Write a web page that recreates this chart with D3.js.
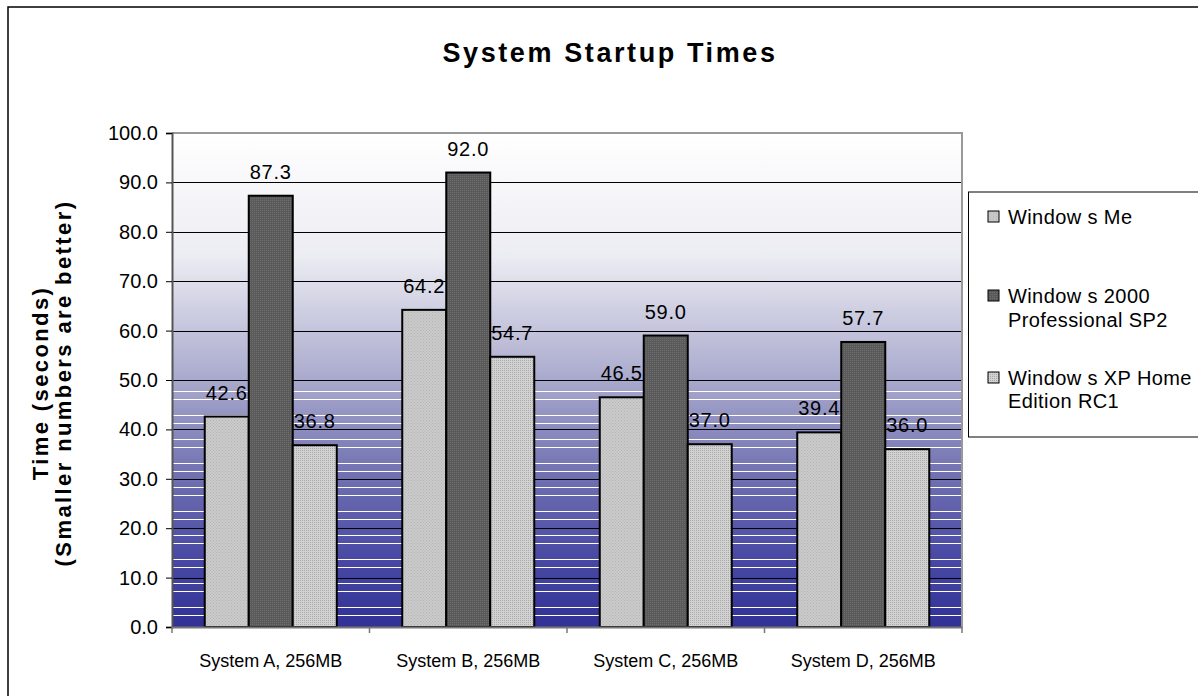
<!DOCTYPE html>
<html><head><meta charset="utf-8">
<script src="https://cdn.jsdelivr.net/npm/d3@7"></script>
<style>body{margin:0;background:#fff;} svg{display:block;font-family:"Liberation Sans",Arial,sans-serif;}</style>
</head><body>
<script>
const categories = ["System A, 256MB","System B, 256MB","System C, 256MB","System D, 256MB"];
const seriesNames = [["Window s Me"],["Window s 2000","Professional SP2"],["Window s XP Home","Edition RC1"]];
const winMe = [42.6, 64.2, 46.5, 39.4];
const win2000 = [87.3, 92.0, 59.0, 57.7];
const winXP = [36.8, 54.7, 37.0, 36.0];
const yTicks = [0,10,20,30,40,50,60,70,80,90,100];
const series = [winMe, win2000, winXP];

const W = 1198, H = 696;
const m = {left:172, right:962, top:133, bottom:627};
const svg = d3.select("body").append("svg").attr("width",W).attr("height",H);
const defs = svg.append("defs");

const grad = defs.append("linearGradient").attr("id","bg").attr("x1",0).attr("y1",0).attr("x2",0).attr("y2",1);
[[0,"#ffffff"],[0.25,"#ececf3"],[0.5,"#a9a9cd"],[0.68,"#7474b3"],[0.85,"#4b4ba5"],[1,"#313196"]].forEach(s=>grad.append("stop").attr("offset",s[0]).attr("stop-color",s[1]));

function pat(id, base, dot, size){
  const p = defs.append("pattern").attr("id",id).attr("width",size).attr("height",size).attr("patternUnits","userSpaceOnUse");
  p.append("rect").attr("width",size).attr("height",size).attr("fill",base);
  p.append("rect").attr("width",1).attr("height",1).attr("fill",dot);
  if(size>2) p.append("rect").attr("x",size/2).attr("y",size/2).attr("width",1).attr("height",1).attr("fill",dot);
}
pat("p0","#cbcbcb","#b4b4b4",3);
pat("p1","#5a5a5a","#6e6e6e",2);
pat("p2","#d2d2d2","#aaaaaa",2);
const fills = ["url(#p0)","url(#p1)","url(#p2)"];

svg.append("rect").attr("x",8).attr("y",7).attr("width",1400).attr("height",900).attr("fill","none").attr("stroke","#000").attr("stroke-width",1.5);

const x = d3.scaleBand().domain(categories).range([m.left, m.right]);
const y = d3.scaleLinear().domain([0,100]).range([m.bottom, m.top]);
const barW = 44;

svg.append("rect").attr("x",m.left).attr("y",m.top).attr("width",m.right-m.left).attr("height",m.bottom-m.top).attr("fill","url(#bg)");

const bandStart = 391.5;
const bandLines = [];
for(let yy=bandStart; yy<m.bottom; yy+=24){ bandLines.push(yy); if(yy+8<m.bottom) bandLines.push(yy+8); }
svg.append("g").selectAll("line").data(bandLines).join("line")
  .attr("x1",m.left).attr("x2",m.right).attr("y1",d=>d).attr("y2",d=>d)
  .attr("stroke","#fff").attr("stroke-width",1);

svg.append("g").selectAll("line").data(yTicks.filter(d=>d>0&&d<100)).join("line")
  .attr("x1",m.left).attr("x2",m.right).attr("y1",d=>Math.round(y(d))+0.5).attr("y2",d=>Math.round(y(d))+0.5)
  .attr("stroke","#000").attr("stroke-width",1);

svg.append("path").attr("d",`M${m.left},${m.top}H${m.right}V${m.bottom}`).attr("fill","none").attr("stroke","#999").attr("stroke-width",2);

categories.forEach((c,i)=>{
  const g0 = x(c) + (x.bandwidth()-barW*3)/2;
  series.forEach((s,j)=>{
    svg.append("rect").attr("x",g0+j*barW).attr("y",y(s[i])).attr("width",barW).attr("height",y(0)-y(s[i]))
      .attr("fill",fills[j]).attr("stroke","#000").attr("stroke-width",2);
  });
});
categories.forEach((c,i)=>{
  const g0 = x(c) + (x.bandwidth()-barW*3)/2;
  series.forEach((s,j)=>{
    svg.append("text").attr("x",g0+j*barW+barW/2).attr("y",y(s[i])-17)
      .attr("text-anchor","middle").attr("font-size",20).attr("letter-spacing",0.8).attr("fill","#000").text(s[i].toFixed(1));
  });
});

const yAxis = svg.append("g").attr("transform",`translate(${m.left},0)`)
  .call(d3.axisLeft(y).tickValues(yTicks).tickFormat(d=>d.toFixed(1)).tickSize(6).tickPadding(8));
yAxis.select(".domain").attr("stroke","#555").attr("stroke-width",2);
yAxis.selectAll(".tick line").attr("stroke","#000");
yAxis.selectAll("text").attr("font-size",20).attr("font-family","Liberation Sans, Arial").attr("fill","#000");

const xAxis = svg.append("g").attr("transform",`translate(0,${m.bottom})`)
  .call(d3.axisBottom(x).tickSize(0).tickPadding(27));
xAxis.select(".domain").attr("stroke","#777").attr("stroke-width",2);
xAxis.selectAll("text").attr("font-size",18).attr("font-family","Liberation Sans, Arial").attr("fill","#000");
svg.append("g").selectAll("line").data(d3.range(categories.length+1)).join("line")
  .attr("x1",d=>m.left + d*x.bandwidth()).attr("x2",d=>m.left + d*x.bandwidth())
  .attr("y1",m.bottom).attr("y2",m.bottom+6).attr("stroke","#777").attr("stroke-width",1.5);

svg.append("text").attr("x",610).attr("y",62).attr("text-anchor","middle").attr("font-size",27).attr("letter-spacing",2.6).attr("font-weight","bold").text("System Startup Times");

const yt = svg.append("text").attr("transform","translate(0,383) rotate(-90)").attr("text-anchor","middle").attr("font-size",22).attr("letter-spacing",2.4).attr("font-weight","bold");
yt.append("tspan").attr("x",0).attr("y",48).text("Time (seconds)");
yt.append("tspan").attr("x",0).attr("y",71).text("(Smaller numbers are better)");

svg.append("rect").attr("x",968.5).attr("y",192).attr("width",400).attr("height",245).attr("fill","#fff").attr("stroke","#000").attr("stroke-width",1);
const legY = [[217],[296,320],[378,401]];
seriesNames.forEach((lines,j)=>{
  svg.append("rect").attr("x",988).attr("y",legY[j][0]-6).attr("width",11).attr("height",11).attr("fill",fills[j]).attr("stroke","#000").attr("stroke-width",1);
  lines.forEach((t,k)=>{
    svg.append("text").attr("x",1008).attr("y",legY[j][k]+7).attr("font-size",20).attr("letter-spacing",0.4).text(t);
  });
});
</script>
</body></html>
